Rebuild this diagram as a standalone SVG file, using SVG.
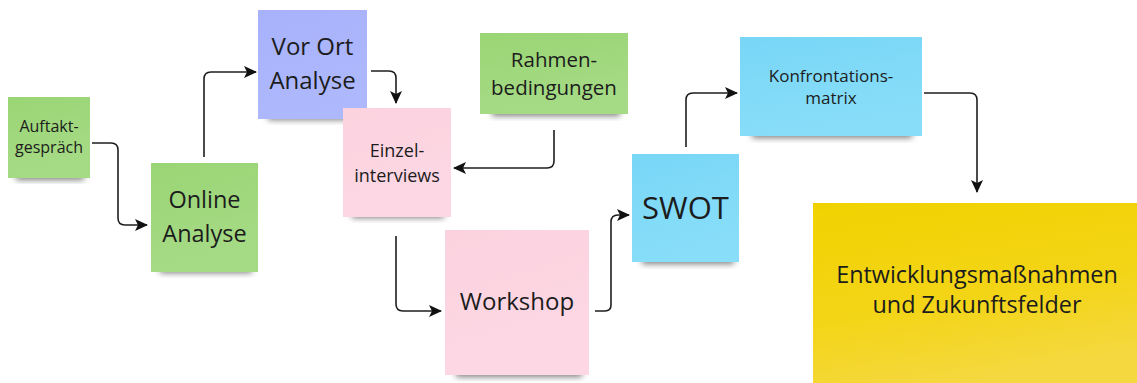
<svg xmlns="http://www.w3.org/2000/svg" width="1137" height="383" viewBox="0 0 1137 383">
<style>
text{font-family:"Open Sans","Noto Sans","DejaVu Sans",sans-serif;fill:#1c1c1c;text-anchor:middle}
.c{fill:none;stroke:#1e1e1e;stroke-width:1.6}
.sh{fill:#000;opacity:0.5;filter:url(#blur)}
</style>
<defs>
<filter id="blur" x="-20%" y="-50%" width="140%" height="200%"><feGaussianBlur stdDeviation="3"/></filter>
<marker id="ah" markerUnits="userSpaceOnUse" markerWidth="14" markerHeight="14" refX="12" refY="7" orient="auto">
<path d="M0,1 L13,7 L0,13 L3,7 z" fill="#111"/>
</marker>
<linearGradient id="gG" x1="0" y1="0" x2="0.3" y2="1"><stop offset="0" stop-color="#9ad575"/><stop offset="1" stop-color="#a6db86"/></linearGradient>
<linearGradient id="gB" x1="0" y1="0" x2="0.3" y2="1"><stop offset="0" stop-color="#a7b2fb"/><stop offset="1" stop-color="#aeb8fc"/></linearGradient>
<linearGradient id="gP" x1="0" y1="0" x2="0.3" y2="1"><stop offset="0" stop-color="#fcd2df"/><stop offset="1" stop-color="#fdd8e4"/></linearGradient>
<linearGradient id="gC" x1="0" y1="0" x2="0.3" y2="1"><stop offset="0" stop-color="#78d6f6"/><stop offset="1" stop-color="#88def9"/></linearGradient>
<linearGradient id="gY" x1="0" y1="0" x2="0.3" y2="1"><stop offset="0" stop-color="#f1d200"/><stop offset="0.6" stop-color="#f3d518"/><stop offset="1" stop-color="#f5d840"/></linearGradient>
</defs>

<g id="connectors">
<path class="c" marker-end="url(#ah)" d="M92,143 H111 Q118,143 118,150 V218 Q118,225 125,225 H147"/>
<path class="c" marker-end="url(#ah)" d="M204,157 V79 Q204,72 211,72 H256"/>
<path class="c" marker-end="url(#ah)" d="M371,71 H389 Q396,71 396,78 V103"/>
<path class="c" marker-end="url(#ah)" d="M554,130 V161 Q554,168 547,168 H454"/>
<path class="c" marker-end="url(#ah)" d="M396,236 V304 Q396,311 403,311 H441"/>
<path class="c" marker-end="url(#ah)" d="M595,311 H605 Q611,311 611,305 V222 Q611,215 618,215 H629"/>
<path class="c" marker-end="url(#ah)" d="M686,147 V100 Q686,93 693,93 H737"/>
<path class="c" marker-end="url(#ah)" d="M924,93 H970 Q977,93 977,100 V192"/>
</g>

<g id="auftakt">
<rect class="sh" x="16" y="172" width="68" height="8"/>
<rect x="8" y="97" width="82" height="81" fill="url(#gG)"/>
<text font-size="16"><tspan x="49" y="132">Auftakt-</tspan><tspan x="49" y="153">gespräch</tspan></text>
</g>

<g id="online">
<rect class="sh" x="160" y="264" width="92" height="9"/>
<rect x="151" y="163" width="107" height="109" fill="url(#gG)"/>
<text font-size="23.5"><tspan x="204.5" y="208">Online</tspan><tspan x="204.5" y="242">Analyse</tspan></text>
</g>

<g id="vorort">
<rect class="sh" x="268" y="111" width="92" height="9"/>
<rect x="258" y="10" width="109" height="109" fill="url(#gB)"/>
<text font-size="24"><tspan x="312.5" y="55">Vor Ort</tspan><tspan x="312.5" y="89">Analyse</tspan></text>
</g>

<g id="rahmen">
<rect class="sh" x="492" y="107" width="128" height="9"/>
<rect x="480" y="33" width="148" height="81" fill="url(#gG)"/>
<text font-size="20.5"><tspan x="554" y="67">Rahmen-</tspan><tspan x="554" y="95">bedingungen</tspan></text>
</g>

<g id="einzel">
<rect class="sh" x="352" y="209" width="92" height="9"/>
<rect x="343" y="108" width="108" height="109" fill="url(#gP)"/>
<text font-size="18"><tspan x="397" y="157">Einzel-</tspan><tspan x="397" y="182">interviews</tspan></text>
</g>

<g id="workshop">
<rect class="sh" x="456" y="368" width="126" height="9"/>
<rect x="445" y="230" width="144" height="145" fill="url(#gP)"/>
<text font-size="24" x="517" y="310">Workshop</text>
</g>

<g id="swot">
<rect class="sh" x="642" y="255" width="92" height="9"/>
<rect x="632" y="154" width="107" height="108" fill="url(#gC)"/>
<text font-size="31" x="685.5" y="219">SWOT</text>
</g>

<g id="konfrontation">
<rect class="sh" x="752" y="129" width="160" height="9"/>
<rect x="740" y="37" width="182" height="99" fill="url(#gC)"/>
<text font-size="17"><tspan x="831" y="82">Konfrontations-</tspan><tspan x="831" y="103.5">matrix</tspan></text>
</g>

<g id="entwicklung">
<rect x="813" y="203" width="330" height="190" fill="url(#gY)"/>
<text font-size="23.4"><tspan x="977" y="283">Entwicklungsmaßnahmen</tspan><tspan x="977" y="312.5">und Zukunftsfelder</tspan></text>
</g>
</svg>
